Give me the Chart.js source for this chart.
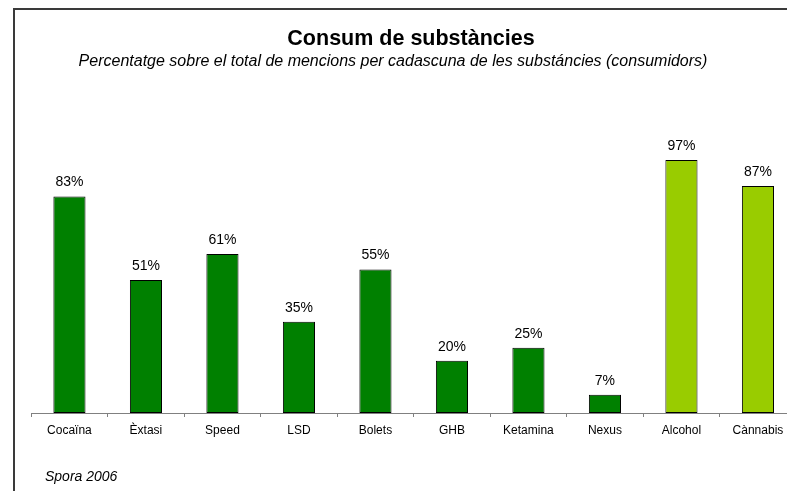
<!DOCTYPE html>
<html>
<head>
<meta charset="utf-8">
<script src="https://cdn.jsdelivr.net/npm/chart.js@4"></script>
<style>
  html, body { margin:0; padding:0; background:#fff; overflow:hidden; width:787px; height:491px; }
  #wrap { position:absolute; left:0; top:0; width:820px; height:491px; }
  #frame { position:absolute; left:13px; top:8px; width:900px; height:600px; border-top:2px solid #3a3a3a; border-left:2px solid #3a3a3a; pointer-events:none; }
</style>
</head>
<body>
<div id="frame"></div>
<div id="wrap"><canvas id="c" width="820" height="491"></canvas></div>
<script>
const categories = ["Cocaïna", "Èxtasi", "Speed", "LSD", "Bolets", "GHB", "Ketamina", "Nexus", "Alcohol", "Cànnabis"];
const values = [83, 51, 61, 35, 55, 20, 25, 7, 97, 87];
const barColors = ["#008000", "#008000", "#008000", "#008000", "#008000", "#008000", "#008000", "#008000", "#99CC00", "#99CC00"];
const titleText = "Consum de substàncies";
const subtitleText = "Percentatge sobre el total de mencions per cadascuna de les substáncies (consumidors)";
const sourceText = "Spora 2006";

const FONT = "'Liberation Sans', Arial, sans-serif";

const textPlugin = {
  id: 'texts',
  afterDatasetsDraw(chart) {
    const ctx = chart.ctx;
    ctx.save();
    ctx.fillStyle = '#000';
    const meta = chart.getDatasetMeta(0);
    ctx.font = "14px " + FONT;
    ctx.textAlign = 'center';
    ctx.textBaseline = 'middle';
    meta.data.forEach((bar, i) => {
      ctx.fillText(values[i] + '%', bar.x, bar.y - 14);
    });
    ctx.font = "bold 21.5px " + FONT;
    ctx.fillText(titleText, 411, 39);
    ctx.font = "italic 16px " + FONT;
    ctx.fillText(subtitleText, 393, 62);
    ctx.textAlign = 'left';
    ctx.font = "italic 14px " + FONT;
    ctx.fillText(sourceText, 45, 477);
    ctx.restore();
  }
};

new Chart(document.getElementById('c'), {
  type: 'bar',
  data: {
    labels: categories,
    datasets: [{
      data: values,
      backgroundColor: barColors,
      borderColor: '#000',
      borderWidth: 1,
      borderSkipped: false,
      categoryPercentage: 1,
      barPercentage: 0.42
    }]
  },
  options: {
    responsive: false,
    animation: false,
    devicePixelRatio: 1,
    layout: { padding: { left: 31.2, right: 23.8, top: 152.2, bottom: 0 } },
    plugins: { legend: { display: false }, tooltip: { enabled: false }, title: { display: false } },
    scales: {
      y: { display: false, min: 0, max: 100 },
      x: {
        afterFit(s) { s.height = 78; },
        grid: { drawOnChartArea: false, drawTicks: true, tickLength: 4, color: '#808080', offset: true },
        border: { display: true, color: '#808080', width: 1 },
        ticks: { color: '#000', font: { family: FONT, size: 12 }, padding: 6, maxRotation: 0, autoSkip: false }
      }
    }
  },
  plugins: [textPlugin]
});
</script>
</body>
</html>
